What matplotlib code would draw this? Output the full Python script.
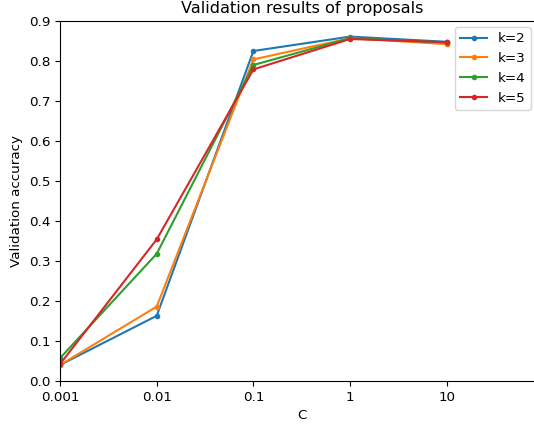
import matplotlib
matplotlib.use("Agg")
import matplotlib.pyplot as plt
from matplotlib.ticker import FixedLocator, FixedFormatter, NullLocator

C_values = [0.001, 0.01, 0.1, 1, 10]
x_tick_labels = ["0.001", "0.01", "0.1", "1", "10"]
series_labels = ["k=2", "k=3", "k=4", "k=5"]
acc_k2 = [0.040, 0.163, 0.825, 0.861, 0.848]
acc_k3 = [0.040, 0.186, 0.804, 0.857, 0.842]
acc_k4 = [0.057, 0.318, 0.790, 0.857, 0.846]
acc_k5 = [0.042, 0.354, 0.779, 0.855, 0.847]
y_ticks = [0.0, 0.1, 0.2, 0.3, 0.4, 0.5, 0.6, 0.7, 0.8, 0.9]

plt.rcParams["font.size"] = 9.7

W, H = 534, 425
fig = plt.figure(figsize=(W / 100, H / 100), dpi=100)
left_px, right_px, top_px, bottom_px = 60, 543.5, 21, 381
ax = fig.add_axes([left_px / W, (H - bottom_px) / H, (right_px - left_px) / W, (bottom_px - top_px) / H])

colors = ["#1f77b4", "#ff7f0e", "#2ca02c", "#d62728"]
for vals, lab, col in zip([acc_k2, acc_k3, acc_k4, acc_k5], series_labels, colors):
    ax.plot(C_values, vals, marker=".", color=col, label=lab, linewidth=1.5, markersize=6)

ax.set_xscale("log")
ax.set_xlim(0.001, 100)
ax.set_ylim(0, 0.9)
ax.xaxis.set_major_locator(FixedLocator(C_values))
ax.xaxis.set_major_formatter(FixedFormatter(x_tick_labels))
ax.xaxis.set_minor_locator(NullLocator())
ax.set_yticks(y_ticks)
ax.set_yticklabels([f"{v:.1f}" for v in y_ticks])
ax.set_xlabel("C")
ax.set_ylabel("Validation accuracy")
ax.set_title("Validation results of proposals", fontsize=11.6)
ax.legend(loc="upper right", bbox_to_anchor=(531 / W, (H - 27) / H),
          bbox_transform=fig.transFigure, borderaxespad=0)

fig.savefig("out.png", dpi=100)
